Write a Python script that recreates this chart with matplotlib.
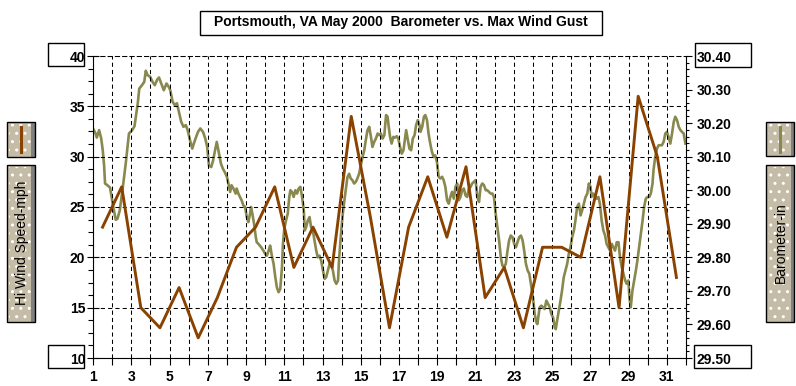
import matplotlib
matplotlib.use("Agg")
import matplotlib.pyplot as plt
from matplotlib.lines import Line2D
from matplotlib.patches import Rectangle
from matplotlib.ticker import FixedLocator, FormatStrFormatter, MultipleLocator

W, H = 796, 386

TITLE = "Portsmouth, VA May 2000  Barometer vs. Max Wind Gust"
WIND_LABEL = "Hi Wind Speed-mph"
BARO_LABEL = "Barometer-in"

# max wind gust per day (mph), plotted at mid-day
days = list(range(1, 32))
wind_mph = [23, 27, 15, 13, 17, 12, 16, 21, 23, 27, 19, 23, 19, 34, 24, 13,
            23, 28, 22, 29, 16, 19, 13, 21, 21, 20, 28, 15, 36, 30, 18]

# barometer trace (day of month, inches)
baro_day = [
    1.00, 1.12, 1.20, 1.32, 1.43, 1.51, 1.58, 1.63, 1.75, 1.89, 1.97, 2.06, 2.19, 2.28,
    2.40, 2.54, 2.71, 2.88, 3.05, 3.17, 3.25, 3.34, 3.42, 3.56, 3.68, 3.76, 3.85, 3.99,
    4.11, 4.23, 4.36, 4.45, 4.58, 4.70, 4.84, 4.96, 5.04, 5.16, 5.27, 5.39, 5.47, 5.61,
    5.73, 5.85, 5.95, 6.07, 6.19, 6.27, 6.36, 6.49, 6.61, 6.75, 6.87, 6.97, 7.06, 7.18,
    7.28, 7.38, 7.47, 7.57, 7.69, 7.79, 7.89, 8.00, 8.06, 8.17, 8.24, 8.34, 8.46,
    8.51, 8.60, 8.68, 8.77, 8.86, 8.95, 9.04, 9.12, 9.21, 9.26, 9.33, 9.42, 9.51, 9.56,
    9.65, 9.79, 9.91, 10.00, 10.09, 10.18, 10.26, 10.35, 10.44, 10.53, 10.61, 10.70,
    10.79, 10.88, 10.93, 11.00, 11.09, 11.18, 11.26, 11.32, 11.40, 11.49, 11.58, 11.67,
    11.75, 11.84, 11.93, 12.02, 12.07, 12.14, 12.23, 12.32, 12.40, 12.49, 12.58, 12.67,
    12.75, 12.84, 12.93, 13.02, 13.11, 13.19, 13.28, 13.37, 13.46, 13.54, 13.63, 13.72,
    13.81, 13.86, 13.95, 14.04, 14.12, 14.21, 14.30, 14.39, 14.47, 14.56, 14.65, 14.74,
    14.82, 14.91, 15.00, 15.09, 15.18, 15.26, 15.35, 15.44, 15.53, 15.61, 15.70, 15.79,
    15.88, 15.96, 16.05, 16.14, 16.23,
    16.32, 16.40, 16.46, 16.53, 16.61, 16.70, 16.79, 16.88, 16.96, 17.05, 17.14, 17.23,
    17.32, 17.37, 17.46, 17.54, 17.63, 17.72, 17.81, 17.89, 17.98, 18.07, 18.12, 18.21,
    18.30, 18.37, 18.46, 18.54, 18.63, 18.72, 18.81, 18.89, 18.98, 19.07, 19.16, 19.25,
    19.33, 19.42, 19.51, 19.60, 19.68, 19.77, 19.86, 19.95, 20.04, 20.12, 20.21, 20.30,
    20.39, 20.47, 20.56, 20.65, 20.74, 20.82, 20.91, 21.00, 21.09, 21.18, 21.26, 21.35,
    21.44, 21.53, 21.61, 21.70, 21.79, 21.88, 21.96, 22.05, 22.14, 22.23, 22.32, 22.40,
    22.49, 22.58, 22.67, 22.75, 22.84, 22.93, 23.02, 23.11, 23.19, 23.28, 23.37, 23.46,
    23.54, 23.63, 23.72, 23.81, 23.89,
    24.00, 24.09, 24.18, 24.23, 24.30, 24.35, 24.44, 24.53, 24.61, 24.70, 24.79, 24.88,
    24.96, 25.05, 25.14, 25.19, 25.26, 25.35, 25.44, 25.52, 25.61, 25.70, 25.79, 25.87,
    25.96, 26.05, 26.14, 26.22, 26.31, 26.40, 26.49, 26.57, 26.66, 26.75, 26.84, 26.92,
    27.01, 27.06, 27.15, 27.24, 27.33, 27.42, 27.50, 27.59, 27.68, 27.77, 27.85, 27.94,
    28.03, 28.12, 28.20, 28.29, 28.38, 28.47, 28.55, 28.64, 28.73, 28.82, 28.90, 28.99,
    29.04, 29.11, 29.20, 29.29, 29.38, 29.46, 29.55, 29.64, 29.73, 29.81, 29.90, 29.99,
    30.08, 30.16, 30.25, 30.30, 30.39, 30.48, 30.57, 30.65, 30.74, 30.83, 30.92, 31.00,
    31.09, 31.18, 31.27, 31.36, 31.44, 31.53, 31.62, 31.71, 31.79, 31.88, 31.97,
]
baro_in = [
    30.184, 30.171, 30.157, 30.179, 30.154, 30.119, 30.074, 30.020, 30.015, 30.008, 29.980,
    29.950, 29.912, 29.915, 29.940, 30.000, 30.079, 30.169, 30.179, 30.191, 30.224, 30.259,
    30.303, 30.313, 30.323, 30.356, 30.343, 30.338, 30.323, 30.313, 30.330, 30.336, 30.316,
    30.298, 30.318, 30.308, 30.298, 30.264, 30.254, 30.259, 30.239, 30.204, 30.189, 30.194,
    30.179, 30.149, 30.124, 30.139, 30.154, 30.174, 30.184, 30.174, 30.154, 30.129, 30.074,
    30.069, 30.089, 30.119, 30.144, 30.114, 30.079, 30.064, 30.054, 30.040, 30.025, 29.995,
    30.015, 30.005, 29.990,
    30.005, 29.990, 29.980, 29.970, 29.955, 29.950, 29.920, 29.905, 29.930, 29.950, 29.930,
    29.900, 29.860, 29.845, 29.840, 29.830, 29.820, 29.810, 29.805, 29.820, 29.835, 29.805,
    29.781, 29.741, 29.711, 29.696, 29.706, 29.771, 29.840, 29.885, 29.910, 29.930, 29.980,
    30.000, 29.995, 29.980, 30.000, 29.990, 30.005, 30.010, 29.980, 29.940, 29.880, 29.890,
    29.910, 29.920, 29.890, 29.880, 29.850, 29.820, 29.800, 29.805, 29.790, 29.761, 29.736,
    29.741, 29.761, 29.781, 29.776, 29.761, 29.731, 29.721, 29.731, 29.791, 29.860, 29.920,
    29.960, 30.000, 30.039, 30.049, 30.035, 30.030, 30.020, 30.025, 30.035, 30.049, 30.074,
    30.099, 30.119, 30.149, 30.179, 30.189, 30.159, 30.129, 30.144, 30.154, 30.169, 30.164,
    30.169, 30.154, 30.164,
    30.224, 30.219, 30.189, 30.159, 30.139, 30.159, 30.157, 30.161, 30.154, 30.129, 30.109,
    30.119, 30.159, 30.179, 30.149, 30.124, 30.119, 30.154, 30.164, 30.194, 30.209, 30.194,
    30.174, 30.189, 30.219, 30.224, 30.209, 30.169, 30.139, 30.114, 30.099, 30.104, 30.084,
    30.040, 30.035, 30.040, 30.030, 30.010, 29.970, 29.960, 29.980, 29.995, 29.975, 30.010,
    30.020, 29.970, 29.980, 30.000, 30.005, 29.985, 29.980, 30.005, 30.010, 30.020, 30.025,
    30.030, 29.980, 29.965, 30.010, 30.020, 30.015, 30.000, 30.000, 29.995, 29.990, 29.990,
    29.980, 29.930, 29.890, 29.850, 29.800, 29.776, 29.771, 29.781, 29.820, 29.850, 29.865,
    29.860, 29.840, 29.830, 29.845, 29.860, 29.865, 29.850, 29.820, 29.781, 29.761, 29.751,
    29.721,
    29.681, 29.631, 29.606, 29.601, 29.631, 29.651, 29.656, 29.651, 29.646, 29.671, 29.661,
    29.651, 29.631, 29.621, 29.591, 29.586, 29.611, 29.641, 29.671, 29.701, 29.741, 29.761,
    29.781, 29.810, 29.830, 29.860, 29.880, 29.910, 29.950, 29.960, 29.925, 29.940, 29.960,
    29.980, 29.990, 30.020, 30.010, 29.980, 29.990, 29.980, 29.975, 29.980, 29.960, 29.910,
    29.880, 29.865, 29.840, 29.830, 29.820, 29.840, 29.830, 29.820, 29.845, 29.845, 29.800,
    29.771, 29.751, 29.731, 29.721, 29.731, 29.681, 29.651, 29.701, 29.731, 29.761, 29.791,
    29.830, 29.870, 29.910, 29.950, 29.975, 29.980, 29.980, 29.990, 30.020, 30.059, 30.099,
    30.124, 30.134, 30.134, 30.134, 30.144, 30.169, 30.174, 30.159, 30.139, 30.169, 30.204,
    30.219, 30.209, 30.189, 30.179, 30.174, 30.169, 30.139,
]

WIND_COLOR = "#8a4200"
BARO_COLOR = "#88884f"
BUTTON_FACE = "#c5bca7"
DASH = (0, (4, 3))

plt.rcParams["font.family"] = ["Liberation Sans", "DejaVu Sans"]
plt.rcParams["font.weight"] = "bold"
plt.rcParams["font.size"] = 10

fig = plt.figure(figsize=(W / 100, H / 100), dpi=100)
fig.patch.set_facecolor("white")


def px_box(x0, y0, x1, y1, **kw):
    """Rectangle given in pixel coords measured from the top-left corner"""
    r = Rectangle((x0 / W, 1 - y1 / H), (x1 - x0) / W, (y1 - y0) / H,
                  transform=fig.transFigure, **kw)
    fig.add_artist(r)
    return r


def px_vline(x, y0, y1, **kw):
    fig.add_artist(Line2D([x / W, x / W], [1 - y0 / H, 1 - y1 / H],
                          transform=fig.transFigure, **kw))


def button(x0, y0, x1, y1):
    px_box(x0, y0, x1, y1, facecolor=BUTTON_FACE, edgecolor="none")
    px_box(x0 + 2, y0 + 2, x1 - 4, y1 - 2, fill=False, edgecolor="white",
           linewidth=0, hatch="..")
    px_box(x1 - 3.5, y0, x1, y1, facecolor="#808080", edgecolor="none")
    px_box(x0, y0, x1, y1, fill=False, edgecolor="black", linewidth=1)


# main axes (wind) and twin (barometer)
ax = fig.add_axes([93 / W, 1 - 358 / H, (686 - 93) / W, (358 - 56) / H])
ax2 = ax.twinx()
ax.set_zorder(2)
ax2.set_zorder(1)
ax.patch.set_visible(False)

ax2.plot(baro_day, baro_in, color=BARO_COLOR, linewidth=1.9)
ax.plot([d + 0.5 for d in days], wind_mph, color=WIND_COLOR, linewidth=2.1)

ax.set_xlim(1, 32)
ax.set_ylim(10, 40)
ax2.set_ylim(29.5, 30.4)

ax.xaxis.set_major_locator(FixedLocator(range(1, 33)))
ax.set_xticklabels([str(d) if d % 2 and d < 32 else "" for d in range(1, 33)])
ax.yaxis.set_major_locator(MultipleLocator(5))
ax.yaxis.set_minor_locator(MultipleLocator(1.25))
ax2.yaxis.set_major_locator(MultipleLocator(0.1))
ax2.yaxis.set_minor_locator(MultipleLocator(0.02))
ax2.yaxis.set_major_formatter(FormatStrFormatter("%.2f"))

ax.tick_params(axis="x", which="major", direction="out", length=5, width=0.8, pad=3.5)
ax.tick_params(axis="y", which="major", direction="inout", length=8, width=0.8, pad=1.5)
ax.tick_params(axis="y", which="minor", direction="out", length=3.5, width=0.8)
ax2.tick_params(axis="y", which="major", direction="out", length=4.3, width=0.8, pad=3.6)
ax2.tick_params(axis="y", which="minor", direction="out", length=2.2, width=0.8)

ax.grid(True, which="major", color="black", linestyle=DASH, linewidth=0.75)

for side in ("left", "bottom"):
    ax.spines[side].set_linewidth(0.8)
ax.spines["right"].set_visible(False)
ax.spines["top"].set_linestyle(DASH)
ax.spines["top"].set_linewidth(0.75)
for side in ("left", "bottom", "top"):
    ax2.spines[side].set_visible(False)
ax2.spines["right"].set_linewidth(0.8)

# title box
px_box(200, 11, 601.5, 35, fill=False, edgecolor="black", linewidth=1)
fig.text(401 / W, 1 - 26 / H, TITLE, ha="center", va="baseline", fontsize=10)

# boxed min / max labels
px_box(48.3, 43.3, 84.3, 66, fill=False, edgecolor="black", linewidth=1)
px_box(48.3, 345, 84.3, 368.3, fill=False, edgecolor="black", linewidth=1)
px_box(695, 43.3, 750.7, 66.7, fill=False, edgecolor="black", linewidth=1)
px_box(694.3, 345, 750.7, 368.3, fill=False, edgecolor="black", linewidth=1)

# legend buttons
button(7.3, 122.3, 34.7, 156.7)
px_vline(21.3, 127, 152, color=WIND_COLOR, linewidth=2.2)
button(7.3, 165, 34.7, 321.7)
fig.text(22 / W, 1 - 242.5 / H, WIND_LABEL, rotation=90, ha="center",
         va="center", fontsize=10, fontweight="normal")

button(766, 122.3, 794, 156)
px_vline(780, 127, 152, color=BARO_COLOR, linewidth=2.2)
button(766, 165, 794, 321.7)
fig.text(780.5 / W, 1 - 242.5 / H, BARO_LABEL, rotation=90, ha="center",
         va="center", fontsize=10, fontweight="normal")

# dotted strip at the bottom edge
fig.add_artist(Line2D([0, 1], [1 - 385.5 / H] * 2, transform=fig.transFigure,
                      color="#b4b4b4", linewidth=0.7, linestyle=(0, (1, 2))))

fig.savefig("out.png", dpi=100)
